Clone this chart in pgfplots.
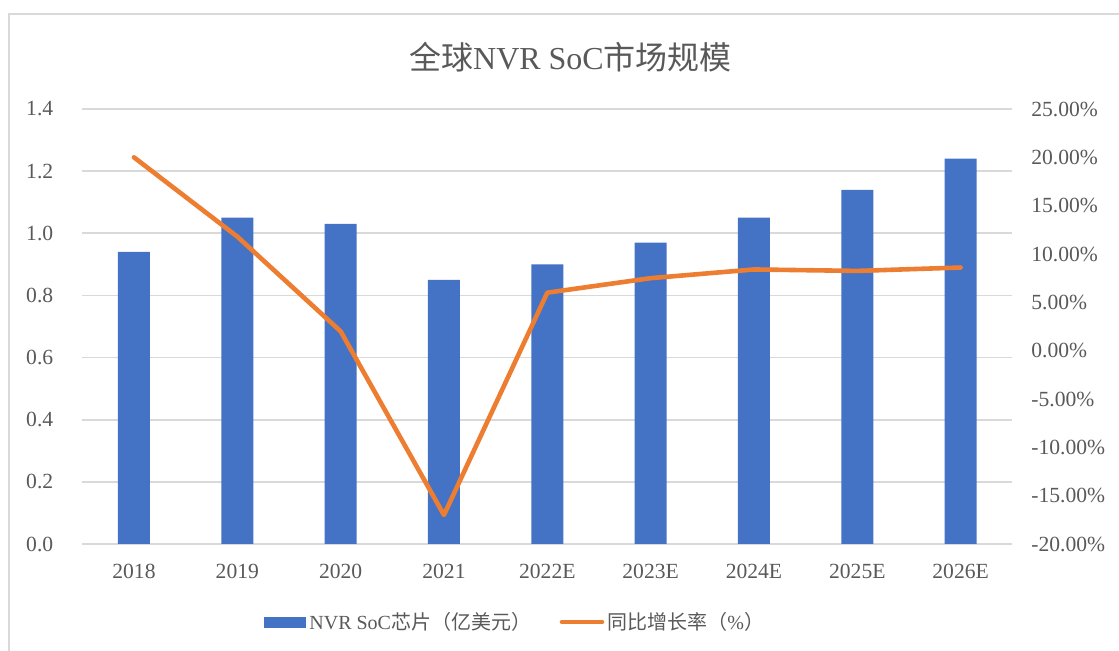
\documentclass[border=0pt]{standalone}
\usepackage{pgfplots}
\pgfplotsset{compat=1.18}
\usepackage{fontspec}
\setmainfont{Liberation Serif}
\newfontfamily\cjk{Noto Sans CJK SC}
\definecolor{barblue}{HTML}{4472C4}
\definecolor{lineorange}{HTML}{ED7D31}
\definecolor{txtgray}{HTML}{595959}
\definecolor{gridgray}{HTML}{D9D9D9}
\begin{document}
\begin{tikzpicture}
\begin{scope}[x=0.5pt,y=0.5pt]
\useasboundingbox (0,0) rectangle (1119,651);
\draw[gridgray,line width=1pt] (9,-10) -- (9,637) -- (1130,637);
\end{scope}
\begin{axis}[
  at={(41.15pt,53.5pt)}, anchor=south west,
  scale only axis, width=465pt, height=217.5pt,
  xmin=-0.5, xmax=8.5, ymin=0, ymax=1.4,
  ytick={0,0.2,...,1.41},
  xtick={0,...,8},
  xticklabels={2018,2019,2020,2021,2022E,2023E,2024E,2025E,2026E},
  axis line style={draw=none},
  major tick length=0pt,
  ymajorgrids, grid style={gridgray,line width=0.8pt},
  yticklabel style={/pgf/number format/fixed,/pgf/number format/fixed zerofill,/pgf/number format/precision=1,/pgf/number format/assume math mode=true,xshift=-11pt},
  tick label style={font=\fontsize{10.8}{12}\selectfont,text=txtgray},
  xticklabel style={yshift=-6.5pt},
  clip=false,
]
\addplot[ybar, bar width=16pt, fill=barblue, draw=none] coordinates {
 (0,0.94) (1,1.05) (2,1.03) (3,0.85) (4,0.90) (5,0.97) (6,1.05) (7,1.14) (8,1.24)};
\end{axis}
\begin{axis}[
  at={(41.15pt,53.5pt)}, anchor=south west,
  scale only axis, width=465pt, height=217.5pt,
  xmin=-0.5, xmax=8.5, ymin=-20, ymax=25,
  ytick={-20,-15,...,25},
  axis x line=none,
  axis y line*=right,
  axis line style={draw=none},
  major tick length=0pt,
  yticklabel={\pgfmathprintnumber[fixed,fixed zerofill,precision=2,assume math mode=true]{\tick}\%},
  yticklabel style={font=\fontsize{10.8}{12}\selectfont,text=txtgray,xshift=6pt},
  clip=false,
]
\addplot[lineorange, line width=2.3pt, line cap=round, line join=round, mark=none] coordinates {
 (0,20.0) (1,11.8) (2,2.0) (3,-17.0) (4,6.0) (5,7.5) (6,8.4) (7,8.25) (8,8.6)};
\end{axis}
\begin{scope}[x=0.5pt,y=0.5pt]
\node[text=txtgray, font=\fontsize{16}{18}\selectfont] at (570.5,594) {{\cjk 全球}NVR SoC{\cjk 市场规模}};
\fill[barblue] (264,23) rectangle (306,34);
\node[anchor=west, text=txtgray, font=\fontsize{10}{12}\selectfont, inner sep=0pt] at (309,29) {NVR SoC{\cjk 芯片（亿美元）}};
\draw[lineorange, line width=2.3pt, line cap=round] (562,29) -- (602,29);
\node[anchor=west, text=txtgray, font=\fontsize{10}{12}\selectfont, inner sep=0pt] at (607,29) {{\cjk 同比增长率（}\%{\cjk ）}};
\end{scope}
\end{tikzpicture}
\end{document}
